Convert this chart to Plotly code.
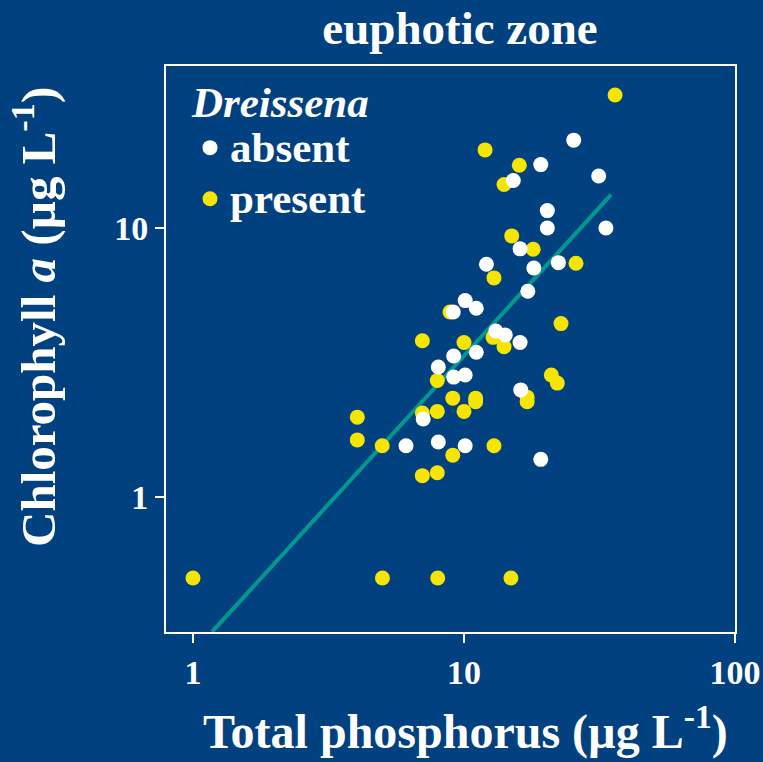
import plotly.graph_objects as go

# Total phosphorus (x) and chlorophyll a (y), µg/L
absent_tp = [25.4, 19.2, 31.4, 15.2, 20.3, 20.3, 33.4, 16.1, 12.1, 18.1, 22.3, 17.2,
             10.1, 11.1, 9.13, 13.1, 14.2, 16.1, 9.16, 11.1, 8.04, 9.16, 10.1, 16.2,
             7.07, 6.11, 8.04, 10.1, 19.2]
absent_chl = [21.2, 17.2, 15.6, 15.0, 11.6, 10.0, 10.0, 8.36, 7.33, 7.1, 7.43, 5.82,
              5.37, 5.03, 4.87, 4.14, 4.0, 3.75, 3.34, 3.45, 3.04, 2.79, 2.84, 2.50,
              1.95, 1.55, 1.60, 1.55, 1.38]

present_tp = [36.1, 11.96, 16.0, 14.05, 15.0, 18.0, 25.9, 12.9, 8.88, 22.8, 7.02, 10.0,
              12.8, 14.05, 7.97, 21.0, 22.1, 17.1, 17.1, 9.09, 11.04, 11.04, 7.02, 7.97,
              10.0, 4.04, 4.04, 4.99, 12.9, 9.09, 7.02, 7.97, 1.0, 5.0, 8.0, 14.9]
present_chl = [31.2, 19.5, 17.1, 14.5, 9.34, 8.33, 7.39, 6.52, 4.87, 4.41, 3.81, 3.75,
               3.92, 3.62, 2.71, 2.84, 2.65, 2.35, 2.26, 2.33, 2.33, 2.26, 2.05, 2.08,
               2.08, 1.98, 1.63, 1.55, 1.55, 1.43, 1.20, 1.23, 0.5, 0.5, 0.5, 0.5]

fit_tp = [1.175, 34.9]
fit_chl = [0.315, 13.3]

BG = "#02417F"
YEL = "#F5E500"
TEAL = "#00998F"
FONT = "Liberation Serif"
LEG = '<span style="font-size:43px">%s</span>'

fig = go.Figure()
fig.add_trace(go.Scatter(x=fit_tp, y=fit_chl, mode="lines",
                         line=dict(color=TEAL, width=4), showlegend=False))
fig.add_trace(go.Scatter(x=present_tp, y=present_chl, mode="markers", name="present",
                         marker=dict(color=YEL, size=15, line=dict(width=0)),
                         showlegend=False))
fig.add_trace(go.Scatter(x=absent_tp, y=absent_chl, mode="markers", name=LEG % "absent",
                         marker=dict(color="white", size=15, line=dict(width=0))))
fig.add_trace(go.Scatter(x=[None], y=[None], mode="markers", name=LEG % "present",
                         marker=dict(color=YEL, size=15, line=dict(width=0))))

fig.update_layout(
    width=763, height=762,
    paper_bgcolor=BG, plot_bgcolor=BG,
    margin=dict(l=166, r=28, t=66, b=130),
    font=dict(family=FONT, color="white"),
    title=dict(text="<b>euphotic zone</b>", x=460/763, xanchor="center",
               y=1 - 28/762, yanchor="middle", font=dict(size=47, family=FONT, color="white")),
    legend=dict(x=(190-166)/569, y=1 - 3/566, xanchor="left", yanchor="top",
                bgcolor="rgba(0,0,0,0)", font=dict(size=37, family=FONT, color="white", weight="bold"),
                title=dict(text='<b><i><span style="font-size:43px">Dreissena</span></i></b>',
                           font=dict(size=37, family=FONT, color="white")),
                itemwidth=30, tracegroupgap=0),
    showlegend=True,
    annotations=[
        dict(text="<b>Total phosphorus (µg L<sup>-1</sup>)</b>", xref="paper", yref="paper",
             x=(465-166)/569, y=(632-729)/566, xanchor="center", yanchor="middle",
             showarrow=False, font=dict(size=48, family=FONT, color="white")),
        dict(text="<b>Chlorophyll <i>a</i> (µg L<sup>-1</sup>)</b>", xref="paper", yref="paper",
             x=(34-166)/569, y=(632-317)/566, xanchor="center", yanchor="middle",
             textangle=-90, showarrow=False, font=dict(size=49, family=FONT, color="white")),
    ],
)
fig.update_xaxes(type="log", range=[-0.0996, 2.0], showgrid=False, zeroline=False,
                 showline=True, linecolor="white", linewidth=2, mirror=True, automargin=False,
                 ticks="outside", ticklen=9, tickwidth=1.5, tickcolor="white",
                 tickvals=[1, 10, 100], ticktext=["<b>1</b>", "<b>10</b>", "<b>100</b>"],
                 tickfont=dict(size=34, family=FONT, color="white"))
fig.update_yaxes(type="log", range=[-0.502, 1.602], showgrid=False, zeroline=False,
                 showline=True, linecolor="white", linewidth=2, mirror=True, automargin=False,
                 ticks="outside", ticklen=9, tickwidth=1.5, tickcolor="white",
                 tickvals=[1, 10], ticktext=["<b>1</b>", "<b>10</b>"],
                 tickfont=dict(size=34, family=FONT, color="white"))

fig.write_html("out.html")
